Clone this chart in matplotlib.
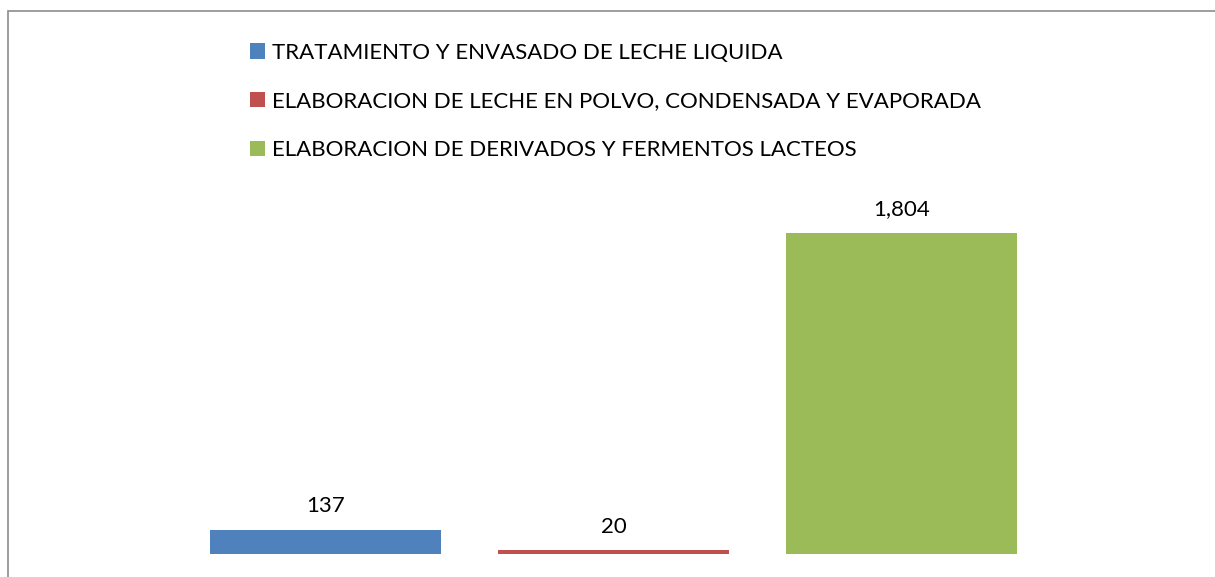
import matplotlib.pyplot as plt
from matplotlib.patches import Patch, Rectangle

categories = ['TRATAMIENTO Y ENVASADO DE LECHE LIQUIDA',
              'ELABORACION DE LECHE EN POLVO, CONDENSADA Y EVAPORADA',
              'ELABORACION DE DERIVADOS Y FERMENTOS LACTEOS']
values = [137, 20, 1804]
labels = ['137', '20', '1,804']
colors = ['#4F81BD', '#C0504D', '#9BBB59']

plt.rcParams['font.family'] = ['Lato', 'DejaVu Sans']

W, H = 1215, 577
fig = plt.figure(figsize=(W / 100, H / 100), dpi=100)

# outer chart frame (right/bottom edges fall outside the image)
fig.patches.append(Rectangle((8 / W, -0.05), 1.1, 1 - 11 / H + 0.05,
                             transform=fig.transFigure, fill=False,
                             edgecolor='#8c8c8c', linewidth=1.2))

ax = fig.add_axes([181.5 / W, 23 / H, 864 / W, 356 / H])
x = range(len(values))
ax.bar(x, values, width=0.8, color=colors)
ax.set_xlim(-0.5, 2.5)
ax.set_ylim(0, 2000)
ax.axis('off')

for xi, v, lab in zip(x, values, labels):
    ax.annotate(lab, (xi, v), xytext=(0, 10), textcoords='offset points',
                ha='center', va='bottom', fontsize=16)

handles = [Patch(facecolor=c, edgecolor='none') for c in colors]
fig.legend(handles, categories, loc='upper left',
           bbox_to_anchor=(241 / W, 1 - 34 / H), frameon=False,
           fontsize=16, handlelength=0.68, handleheight=0.68,
           handletextpad=0.3, labelspacing=1.29, borderaxespad=0)

plt.savefig('out.png', dpi=100)
